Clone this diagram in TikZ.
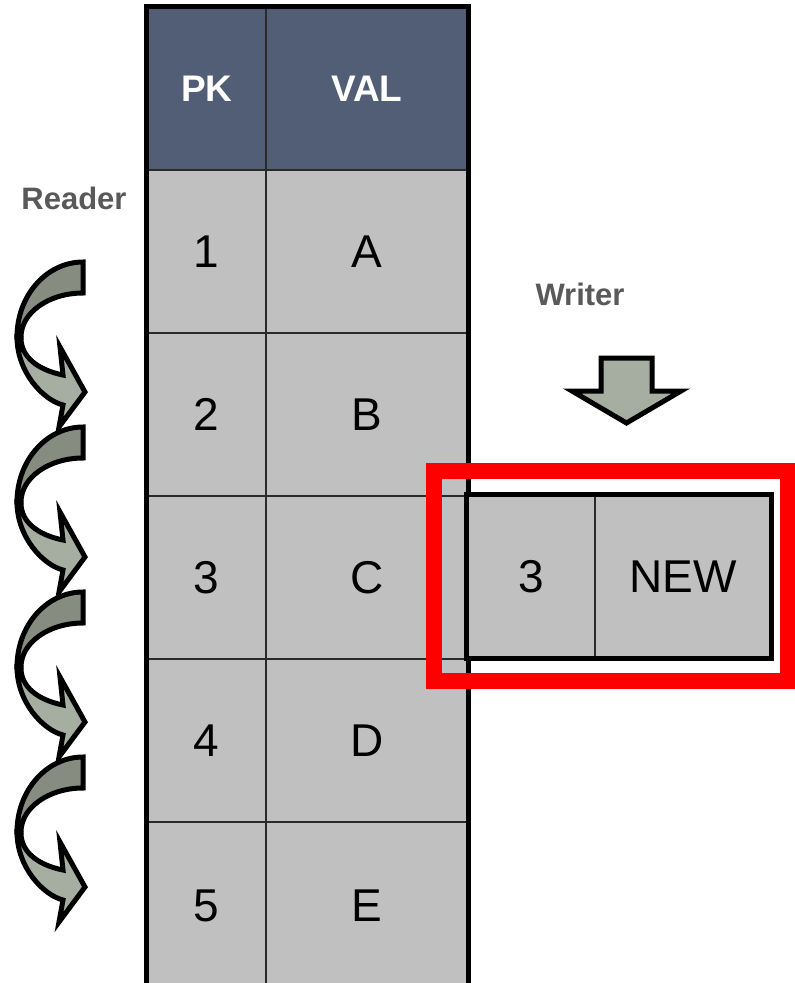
\documentclass[tikz,border=0pt]{standalone}
\usepackage{fontspec}
\setmainfont{Liberation Sans}
\definecolor{hdrblue}{HTML}{525E75}
\definecolor{cellgray}{HTML}{C0C0C0}
\definecolor{gridline}{HTML}{2A2A2A}
\definecolor{labgray}{HTML}{595959}
\definecolor{arrdark}{HTML}{868C80}
\definecolor{arrlight}{HTML}{A6AEA2}
\definecolor{hired}{HTML}{FF0000}
\tikzset{
  cellbox/.style={rectangle, draw=gridline, line width=1.6pt, fill=cellgray,
    inner sep=0pt, anchor=center, font=\fontsize{46}{50}\selectfont},
  pkcol/.style={minimum width=118.5pt},
  valcol/.style={minimum width=201.5pt},
  rowh/.style={minimum height=163pt},
  hdrbox/.style={cellbox, fill=hdrblue, text=white, minimum height=162.5pt,
    font=\fontsize{37}{40}\selectfont\bfseries},
  outerline/.style={draw=black, line width=5pt},
  label/.style={text=labgray, font=\fontsize{31}{33}\selectfont\bfseries, inner sep=0pt},
  redbox/.style={draw=hired, line width=16pt},
  arrline/.style={draw=black, line width=5pt, line join=miter},
}
\begin{document}
\begin{tikzpicture}[x=1pt,y=-1pt]
\useasboundingbox (0,0) rectangle (795,983);
\clip (0,0) rectangle (795,983);
% header
\node[hdrbox, pkcol] (hpk) at (206.75,88.75) {PK};
\node[hdrbox, valcol] (hval) at (366.75,88.75) {VAL};
% rows
\node[cellbox, pkcol, rowh] (p1) at (206.75,251.5) {1};
\node[cellbox, valcol, rowh] (v1) at (366.75,251.5) {A};
\node[cellbox, pkcol, rowh] (p2) at (206.75,414.5) {2};
\node[cellbox, valcol, rowh] (v2) at (366.75,414.5) {B};
\node[cellbox, pkcol, rowh] (p3) at (206.75,577.5) {3};
\node[cellbox, valcol, rowh] (v3) at (366.75,577.5) {C};
\node[cellbox, pkcol, rowh] (p4) at (206.75,740.5) {4};
\node[cellbox, valcol, rowh] (v4) at (366.75,740.5) {D};
\node[cellbox, pkcol, minimum height=168pt] (p5) at (206.75,906) {5};
\node[cellbox, valcol, minimum height=168pt] (v5) at (366.75,906) {E};
% table outer border
\draw[outerline] (hpk.north west) rectangle (v5.south east);
% new row
\node[cellbox, minimum width=128pt, minimum height=163pt] (n3) at (531,576.5) {3};
\node[cellbox, minimum width=176pt, minimum height=163pt] (nnew) at (683,576.5) {NEW};
\draw[outerline] (n3.north west) rectangle (nnew.south east);
% red highlight
\draw[redbox] ([shift={(-32,-23)}]n3.north west) rectangle ([shift={(16,22)}]nnew.south east);
% labels
\node[label] (reader) at (74,198) {Reader};
\node[label] (writer) at (580,294) {Writer};
% writer arrow
\draw[arrline, fill=arrlight] (601,358) -- (652,358) -- (652,391) -- (681,391)
  -- (626.5,423) -- (572,391) -- (601,391) -- cycle;
% reader curved arrows
\foreach \yy in {262,427,592,757} {
  \begin{scope}[shift={(83,\yy)}]
    \draw[arrline, fill=arrdark] (0,0) .. controls (-36.5,0) and (-66,33.6) .. (-66,75)
      -- (-62,75) .. controls (-62,50.7) and (-34.2,31) .. (0,31) -- cycle;
    \draw[arrline, fill=arrlight] (-66,75) .. controls (-66,110) and (-40,138) .. (-20,143)
      -- (-24,165) -- (2,130) -- (-23,85) -- (-20,113)
      .. controls (-45,108) and (-62,95) .. (-62,76) -- cycle;
  \end{scope}
}
\end{tikzpicture}
\end{document}
